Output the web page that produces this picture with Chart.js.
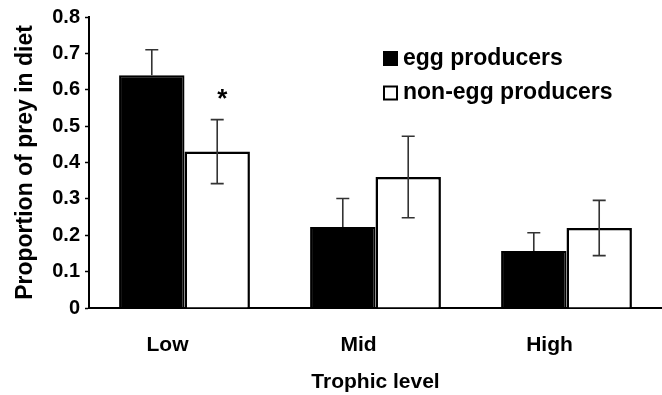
<!DOCTYPE html>
<html>
<head>
<meta charset="utf-8">
<script src="https://cdn.jsdelivr.net/npm/chart.js@4"></script>
<style>
  html, body { margin: 0; padding: 0; background: #fff; }
  #wrap { width: 662px; height: 395px; }
</style>
</head>
<body>
<div id="wrap"><canvas id="chart-diet"></canvas></div>
<script>
const levels = ['Low', 'Mid', 'High'];
const eggValue = [0.64, 0.223, 0.157];
const eggErr = [0.07, 0.078, 0.05];
const nonEggValue = [0.43, 0.36, 0.22];
const nonEggErr = [0.088, 0.112, 0.076];
const starred = [true, false, false];

const FONT = '"Liberation Sans", Arial, sans-serif';

// error bars + asterisk + legend drawn on top of the bars
const extras = {
    id: 'extras',
    afterDatasetsDraw(chart) {
        const ctx = chart.ctx;
        const y = chart.scales.y;
        const sets = [
            { meta: chart.getDatasetMeta(0), val: eggValue, err: eggErr, lower: false },
            { meta: chart.getDatasetMeta(1), val: nonEggValue, err: nonEggErr, lower: true }
        ];
        ctx.save();
        ctx.strokeStyle = '#333';
        ctx.lineWidth = 1.6;
        sets.forEach(function (s) {
            s.meta.data.forEach(function (bar, i) {
                const top = y.getPixelForValue(s.val[i] + s.err[i]);
                const bot = s.lower ? y.getPixelForValue(s.val[i] - s.err[i]) : y.getPixelForValue(s.val[i]);
                ctx.beginPath();
                ctx.moveTo(bar.x, top); ctx.lineTo(bar.x, bot);
                ctx.moveTo(bar.x - 6.5, top); ctx.lineTo(bar.x + 6.5, top);
                if (s.lower) { ctx.moveTo(bar.x - 6.5, bot); ctx.lineTo(bar.x + 6.5, bot); }
                ctx.stroke();
                if (s.lower && starred[i]) {
                    ctx.fillStyle = '#000';
                    ctx.font = 'bold 26px ' + FONT;
                    ctx.textAlign = 'center';
                    ctx.textBaseline = 'middle';
                    ctx.fillText('*', bar.x + 5, top - 20);
                }
            });
        });
        // legend
        const items = [['egg producers', '#000'], ['non-egg producers', '#fff']];
        ctx.font = 'bold 23px ' + FONT;
        ctx.textAlign = 'left';
        ctx.textBaseline = 'middle';
        items.forEach(function (it, k) {
            const cy = 58.5 + k * 34.5;
            ctx.fillStyle = it[1];
            ctx.fillRect(384, cy - 6.5, 13, 13);
            ctx.strokeStyle = '#000';
            ctx.lineWidth = 2;
            ctx.strokeRect(384, cy - 6.5, 13, 13);
            ctx.fillStyle = '#000';
            ctx.fillText(it[0], 403, cy);
        });
        ctx.restore();
    }
};

const ctxDiet = document.getElementById('chart-diet').getContext('2d');
const chartDiet = new Chart(ctxDiet, {
    type: 'bar',
    data: {
        labels: levels,
        datasets: [
            {
                label: 'egg producers',
                data: eggValue,
                backgroundColor: '#000',
                borderColor: '#000',
                borderWidth: 2,
                categoryPercentage: 0.685,
                barPercentage: 1
            },
            {
                label: 'non-egg producers',
                data: nonEggValue,
                backgroundColor: '#fff',
                borderColor: '#000',
                borderWidth: 2.5,
                categoryPercentage: 0.685,
                barPercentage: 1
            }
        ]
    },
    options: {
        responsive: true,
        maintainAspectRatio: false,
        animation: false,
        layout: { padding: { top: 10, right: 0, left: 0, bottom: 0 } },
        plugins: { legend: { display: false }, tooltip: { enabled: false } },
        scales: {
            x: {
                grid: { display: false, drawTicks: false },
                border: { color: '#000', width: 2 },
                ticks: { color: '#000', font: { family: FONT, size: 21, weight: 'bold' }, padding: 25, labelOffset: -17 },
                title: { display: true, text: 'Trophic level', color: '#000', font: { family: FONT, size: 21, weight: 'bold' }, padding: { top: 4, bottom: 0 } },
                afterFit(scale) { scale.height = 87; }
            },
            y: {
                min: 0,
                max: 0.8,
                grid: { display: true, drawOnChartArea: false, tickLength: 4, color: '#000', tickWidth: 1.5 },
                border: { color: '#000', width: 2 },
                ticks: {
                    stepSize: 0.1,
                    color: '#000',
                    padding: 5,
                    font: { family: FONT, size: 20, weight: 'bold' },
                    callback: function (v) { return v === 0 ? '0' : v.toFixed(1); }
                },
                title: { display: true, text: 'Proportion of prey in diet', color: '#000', font: { family: FONT, size: 23, weight: 'bold' }, padding: { top: 12, bottom: 0 } },
                afterFit(scale) { scale.width = 89; }
            }
        }
    },
    plugins: [extras]
});
</script>
</body>
</html>
